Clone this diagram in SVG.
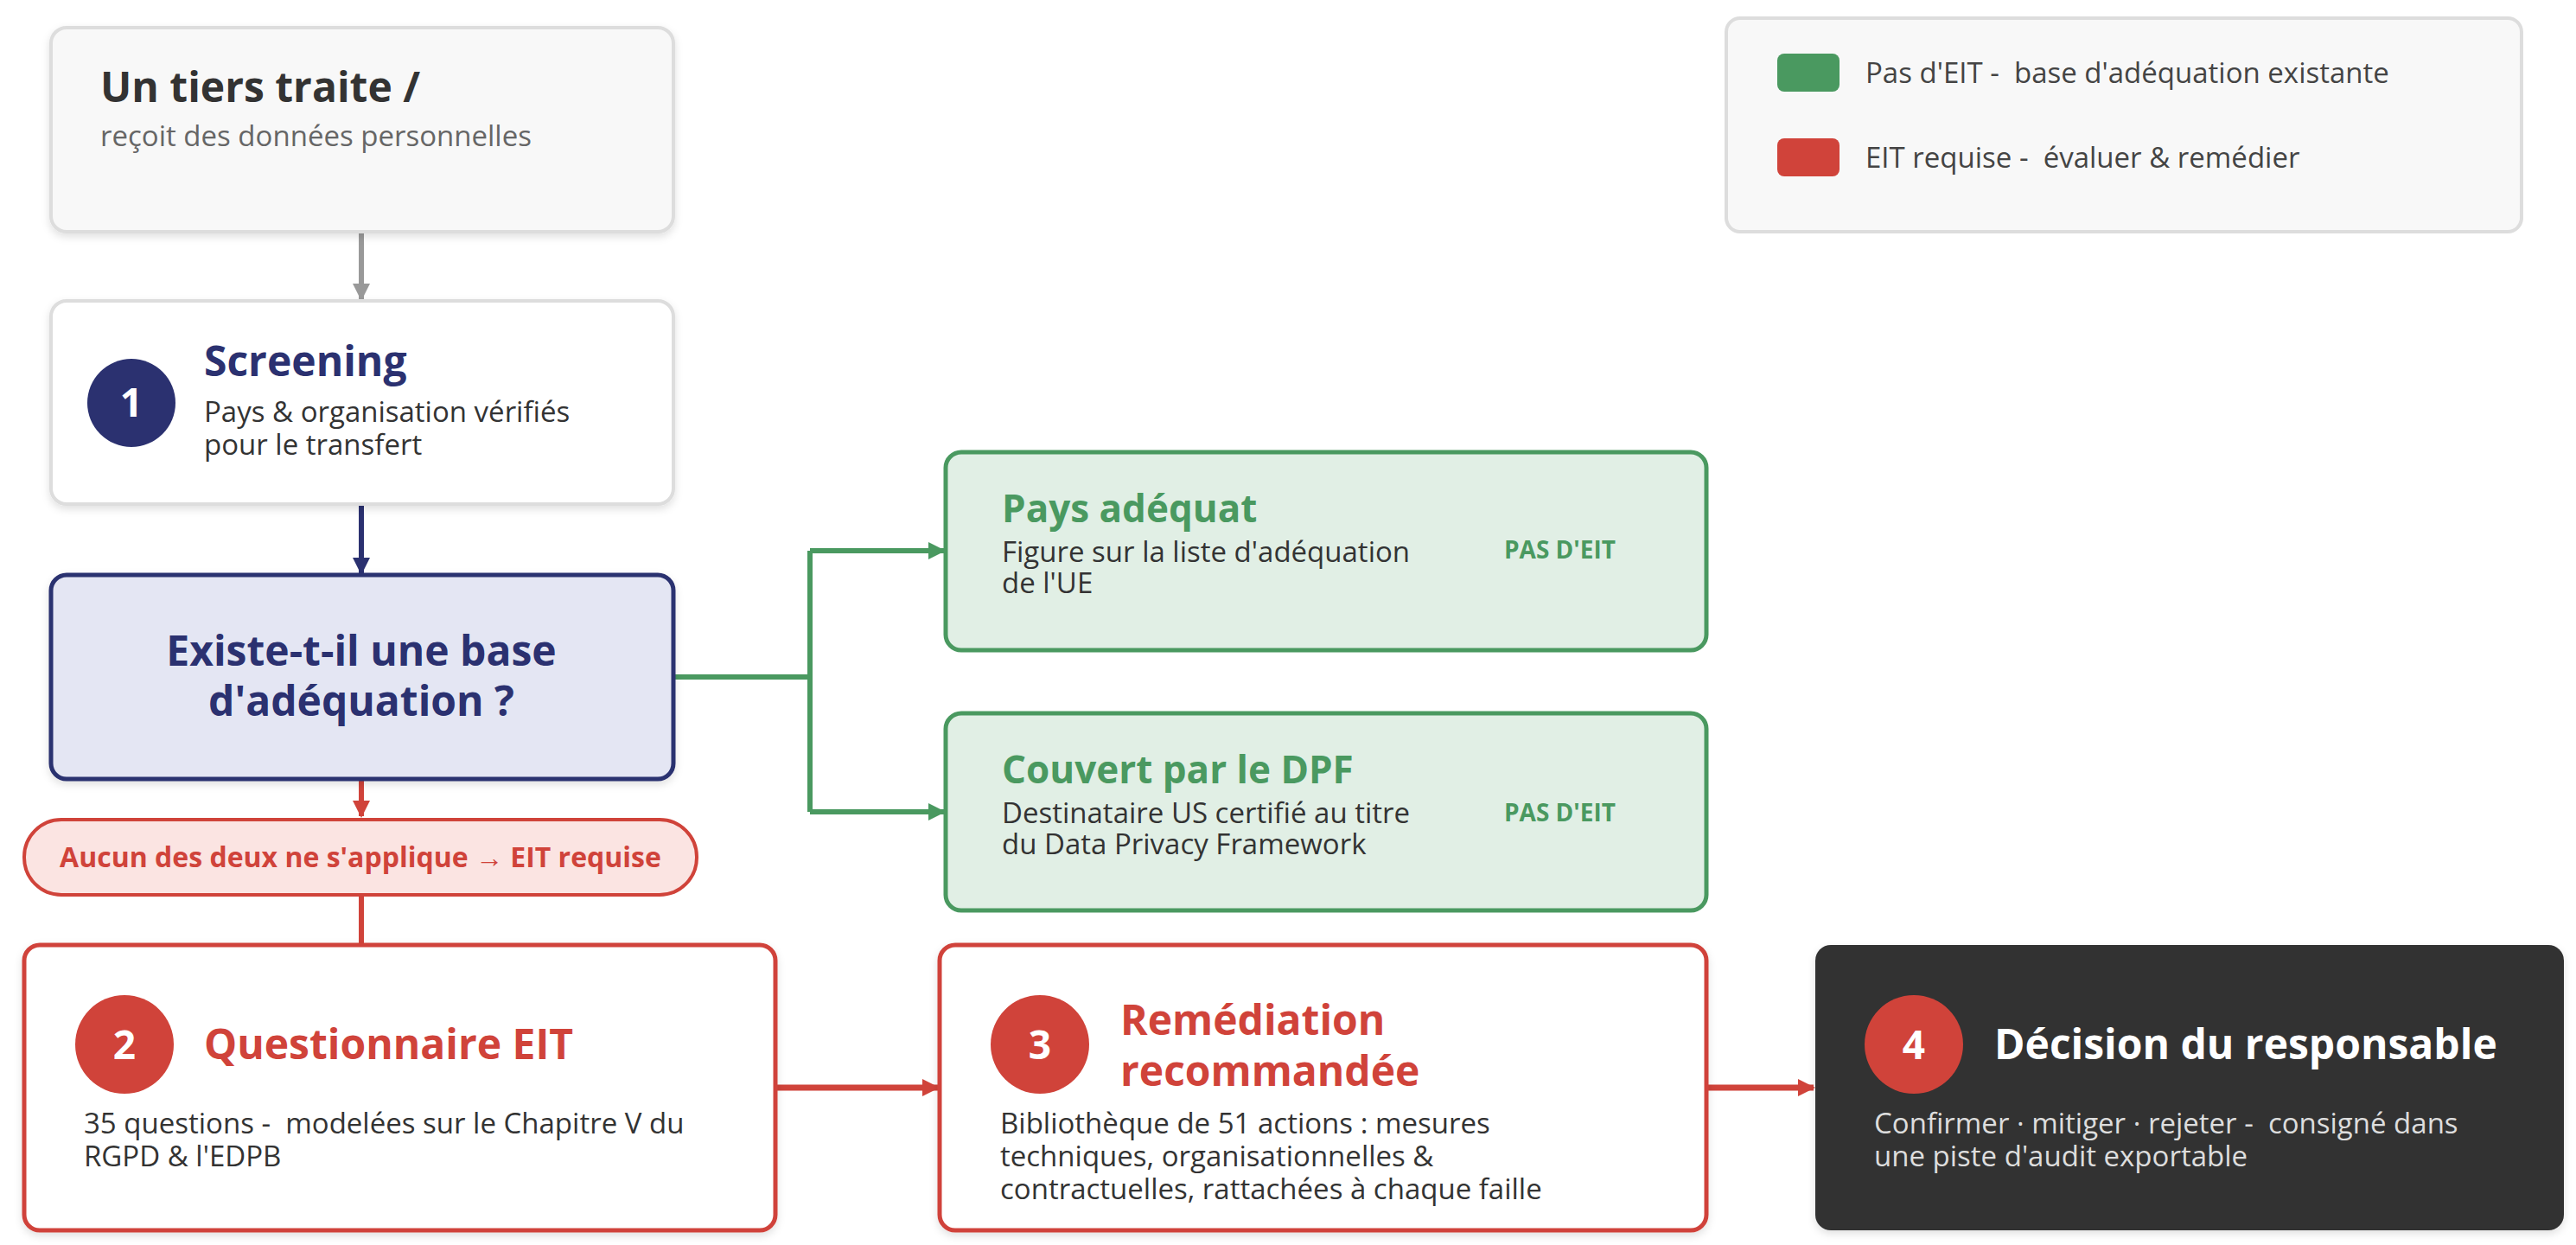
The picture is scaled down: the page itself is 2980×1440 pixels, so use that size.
<svg xmlns="http://www.w3.org/2000/svg" width="2980" height="1440" viewBox="0 0 2980 1440" xml:space="preserve">
<defs>
<style>
text{font-family:"Open Sans","Liberation Sans",sans-serif;white-space:pre}
.t{font-weight:700}
.d{font-size:33px;fill:#333}
.navy{fill:#2b3170}
.grn{fill:#4a9960}
.red{fill:#d0433a}
.num{font-size:46px;font-weight:700;fill:#fff;text-anchor:middle}
</style>
<filter id="sh" x="-5%" y="-5%" width="110%" height="115%"><feDropShadow dx="0" dy="4" stdDeviation="5" flood-opacity="0.12"/></filter>
<marker id="an" viewBox="0 0 10 10" markerWidth="20" markerHeight="20" refX="9" refY="5" orient="auto" markerUnits="userSpaceOnUse"><path d="M0,0 L10,5 L0,10z" fill="#2b3170"/></marker>
<marker id="ar" viewBox="0 0 10 10" markerWidth="20" markerHeight="20" refX="9" refY="5" orient="auto" markerUnits="userSpaceOnUse"><path d="M0,0 L10,5 L0,10z" fill="#d0433a"/></marker>
<marker id="agr" viewBox="0 0 10 10" markerWidth="20" markerHeight="20" refX="9" refY="5" orient="auto" markerUnits="userSpaceOnUse"><path d="M0,0 L10,5 L0,10z" fill="#4a9960"/></marker>
<marker id="agy" viewBox="0 0 10 10" markerWidth="20" markerHeight="20" refX="9" refY="5" orient="auto" markerUnits="userSpaceOnUse"><path d="M0,0 L10,5 L0,10z" fill="#999"/></marker>
</defs>
<rect width="2980" height="1440" fill="#fff"/>

<g id="connectors" fill="none" stroke-width="6">
<path d="M418 268 V346" stroke="#999" marker-end="url(#agy)"/>
<path d="M418 583 V663" stroke="#2b3170" marker-end="url(#an)"/>
<path d="M418 901 V944" stroke="#d0433a" marker-end="url(#ar)"/>
<path d="M418 1035 V1093" stroke="#d0433a"/>
<path d="M779 783 H937 M937 637 V939" stroke="#4a9960"/>
<path d="M937 637 H1092" stroke="#4a9960" marker-end="url(#agr)"/>
<path d="M937 939 H1092" stroke="#4a9960" marker-end="url(#agr)"/>
<path d="M897 1258 H1085" stroke="#d0433a" stroke-width="7" marker-end="url(#ar)"/>
<path d="M1974 1258 H2098" stroke="#d0433a" stroke-width="7" marker-end="url(#ar)"/>
</g>

<g id="source">
<rect x="59" y="32" width="720" height="236" rx="18" fill="#f8f8f8" stroke="#ddd" stroke-width="4" filter="url(#sh)"/>
<text x="116" y="118" class="t" font-size="48" fill="#333">Un tiers traite /</text>
<text x="116" y="169" font-size="33" fill="#666">reçoit des données personnelles</text>
</g>

<g id="screening">
<rect x="59" y="348" width="720" height="235" rx="18" fill="#fff" stroke="#ddd" stroke-width="4" filter="url(#sh)"/>
<circle cx="152" cy="466" r="51" fill="#2b3170"/>
<text x="152" y="482" class="num">1</text>
<text x="236" y="435" class="t navy" font-size="48">Screening</text>
<text x="236" y="488" class="d">Pays &amp; organisation vérifiés</text>
<text x="236" y="526" class="d">pour le transfert</text>
</g>

<g id="question">
<rect x="59" y="665" width="720" height="236" rx="18" fill="#e4e6f3" stroke="#2b3170" stroke-width="5" filter="url(#sh)"/>
<text x="418" y="770" class="t navy" font-size="48" text-anchor="middle">Existe-t-il une base</text>
<text x="418" y="828" class="t navy" font-size="48" text-anchor="middle">d'adéquation ?</text>
</g>

<g id="neither">
<rect x="28" y="948" width="778" height="87" rx="43" fill="#fbe4e2" stroke="#d0433a" stroke-width="4"/>
<text x="417" y="1003" class="t red" font-size="32" text-anchor="middle">Aucun des deux ne s'applique → EIT requise</text>
</g>

<g id="adequate">
<rect x="1094" y="523" width="880" height="229" rx="18" fill="#e1efe5" stroke="#4a9960" stroke-width="5"/>
<text x="1159" y="604" class="t grn" font-size="44">Pays adéquat</text>
<text x="1159" y="650" class="d">Figure sur la liste d'adéquation</text>
<text x="1159" y="686" class="d">de l'UE</text>
<text x="1740" y="646" class="t grn" font-size="28">PAS D'EIT</text>
</g>

<g id="dpf">
<rect x="1094" y="825" width="880" height="228" rx="18" fill="#e1efe5" stroke="#4a9960" stroke-width="5"/>
<text x="1159" y="906" class="t grn" font-size="44">Couvert par le DPF</text>
<text x="1159" y="952" class="d">Destinataire US certifié au titre</text>
<text x="1159" y="988" class="d">du Data Privacy Framework</text>
<text x="1740" y="950" class="t grn" font-size="28">PAS D'EIT</text>
</g>

<g id="questionnaire">
<rect x="28" y="1093" width="869" height="330" rx="18" fill="#fff" stroke="#d0433a" stroke-width="5" filter="url(#sh)"/>
<circle cx="144" cy="1208" r="57" fill="#d0433a"/>
<text x="144" y="1225" class="num">2</text>
<text x="236" y="1225" class="t red" font-size="48">Questionnaire EIT</text>
<text x="97" y="1311" class="d">35 questions -  modelées sur le Chapitre V du</text>
<text x="97" y="1349" class="d">RGPD &amp; l'EDPB</text>
</g>

<g id="remediation">
<rect x="1087" y="1093" width="887" height="330" rx="18" fill="#fff" stroke="#d0433a" stroke-width="5" filter="url(#sh)"/>
<circle cx="1203" cy="1208" r="57" fill="#d0433a"/>
<text x="1203" y="1225" class="num">3</text>
<text x="1296" y="1197" class="t red" font-size="48">Remédiation</text>
<text x="1296" y="1256" class="t red" font-size="48">recommandée</text>
<text x="1157" y="1311" class="d">Bibliothèque de 51 actions : mesures</text>
<text x="1157" y="1349" class="d">techniques, organisationnelles &amp;</text>
<text x="1157" y="1387" class="d">contractuelles, rattachées à chaque faille</text>
</g>

<g id="decision">
<rect x="2100" y="1093" width="866" height="330" rx="18" fill="#333" filter="url(#sh)"/>
<circle cx="2214" cy="1208" r="57" fill="#d0433a"/>
<text x="2214" y="1225" class="num">4</text>
<text x="2307" y="1225" class="t" font-size="48" fill="#fff">Décision du responsable</text>
<text x="2168" y="1311" font-size="33" fill="#ddd">Confirmer · mitiger · rejeter -  consigné dans</text>
<text x="2168" y="1349" font-size="33" fill="#ddd">une piste d'audit exportable</text>
</g>

<g id="legend">
<rect x="1997" y="21" width="920" height="247" rx="16" fill="#f8f8f8" stroke="#ddd" stroke-width="4"/>
<rect x="2056" y="62" width="72" height="44" rx="8" fill="#4a9960"/>
<text x="2158" y="96" font-size="33" fill="#444">Pas d'EIT -  base d'adéquation existante</text>
<rect x="2056" y="160" width="72" height="44" rx="8" fill="#d0433a"/>
<text x="2158" y="194" font-size="33" fill="#444">EIT requise -  évaluer &amp; remédier</text>
</g>
</svg>
